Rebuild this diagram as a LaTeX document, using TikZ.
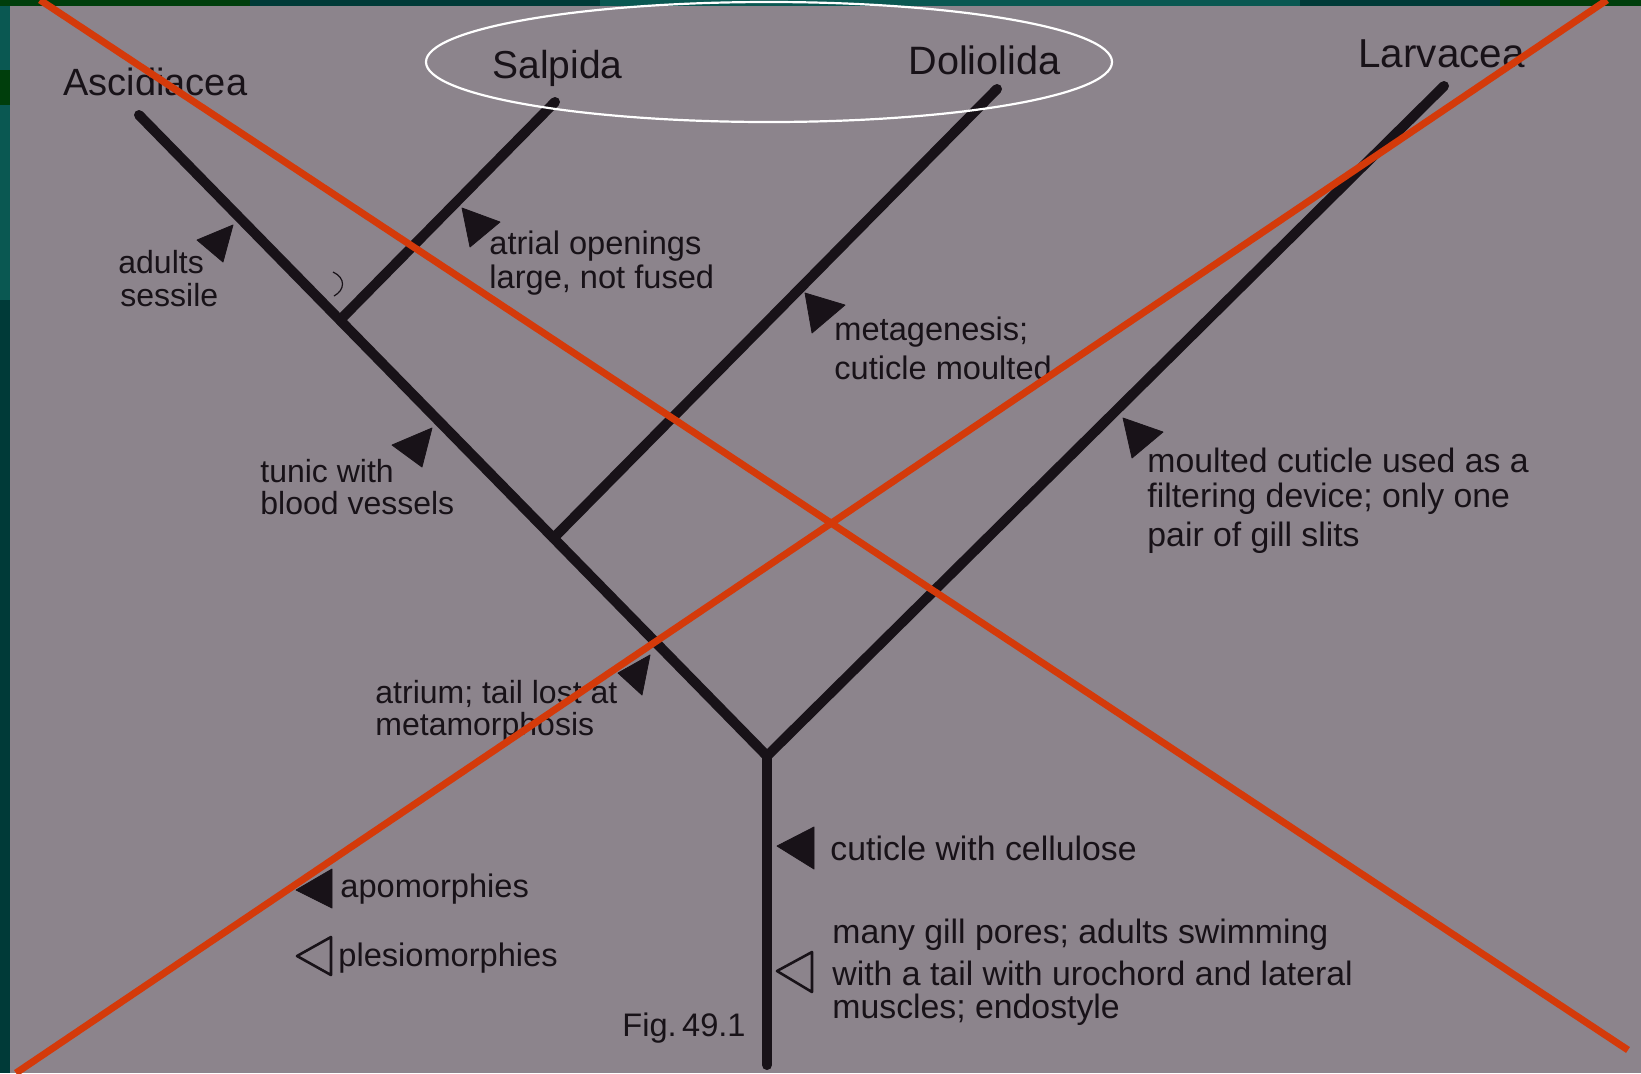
\documentclass[tikz,border=0pt]{standalone}
\usepackage{fontspec}
\setmainfont{Liberation Sans}
\usetikzlibrary{calc}
\definecolor{pagec}{RGB}{140,132,140}
\definecolor{ink}{RGB}{24,18,24}
\definecolor{xred}{RGB}{212,58,10}
\definecolor{tealdark}{RGB}{0,58,56}
\definecolor{teallight}{RGB}{10,88,82}
\definecolor{greendark}{RGB}{0,62,12}
\begin{document}
\begin{tikzpicture}[x=0.5pt,y=-0.5pt,
  branch/.style={line width=5pt, draw=ink, line cap=round, line join=round},
  taxon/.style={font=\fontsize{19.5}{22}\selectfont, text=ink, inner sep=0pt, anchor=west},
  lbl/.style={font=\fontsize{16.3}{19}\selectfont, text=ink, inner sep=0pt, anchor=west},
  lblsmall/.style={lbl, font=\fontsize{16}{19}\selectfont},
  lblbig/.style={lbl, font=\fontsize{16.9}{19}\selectfont},
  apo/.style={fill=ink, draw=ink, line join=round},
  plesio/.style={draw=ink, line width=1.3pt, line join=round},
  cross/.style={draw=xred, line width=3.5pt},
  ring/.style={draw=white, line width=1.1pt}]
\useasboundingbox (0,0) rectangle (1641,1073);
% backdrop
\fill[tealdark] (0,0) rectangle (1641,1073);
\fill[teallight] (0,6) rectangle (10,300);
\fill[greendark] (0,70) rectangle (10,105);
\fill[teallight] (600,0) rectangle (1300,6);
\fill[greendark] (0,0) rectangle (250,6);
\fill[greendark] (1500,0) rectangle (1641,6);
\fill[pagec] (10,6) rectangle (1641,1073);

% tree
\coordinate (asc) at (139,115);
\coordinate (fork) at (767,756);
\coordinate (root) at (767,1065);
\coordinate (lar) at (1444,86);
\coordinate (sj) at ($(asc)!0.32!(fork)$);
\coordinate (sal) at (555,102);
\coordinate (dj) at ($(asc)!0.66!(fork)$);
\coordinate (dol) at (997,89);
\draw[branch] (asc) -- (fork) -- (lar);
\draw[branch] (fork) -- (root);
\draw[branch] (sj) -- (sal);
\draw[branch] (dj) -- (dol);
\draw[ink, line width=0.6pt] (333,272) .. controls (346,278) and (345,290) .. (334,296);

% character markers
\fill[apo] (197,240) -- (233,225) -- (223,262) -- cycle;
\fill[apo] (462,208) -- (500,222) -- (470,247) -- cycle;
\fill[apo] (392,445) -- (432,428) -- (422,467) -- cycle;
\fill[apo] (805,293) -- (845,305) -- (812,333) -- cycle;
\fill[apo] (1123,418) -- (1163,432) -- (1132,458) -- cycle;
\fill[apo] (618,673) -- (650,655) -- (642,695) -- cycle;
\fill[apo] (777,846) -- (814,827) -- (814,869) -- cycle;
\draw[plesio] (777,971) -- (812,952) -- (812,992) -- cycle;
\fill[apo] (296,890) -- (332,869) -- (332,908) -- cycle;
\draw[plesio] (297,956) -- (331,937) -- (331,975) -- cycle;

% taxa
\node[taxon, font=\fontsize{19}{22}\selectfont] (tAsc) at (63,82) {Ascidiacea};
\node[taxon] (tSal) at (492,68) {Salpida};
\node[taxon, font=\fontsize{19.8}{22}\selectfont] (tDol) at (908,60) {Doliolida};
\node[taxon, font=\fontsize{20.2}{22}\selectfont] (tLar) at (1358,54) {Larvacea};

% labels
\node[lblsmall] (a1) at (118,262) {adults};
\node[lblsmall] (a2) at (120,295) {sessile};
\node[lbl] (b1) at (489,246) {atrial openings};
\node[lbl] (b2) at (489,280) {large, not fused};
\node[lbl] (c1) at (834,332) {metagenesis;};
\node[lbl] (c2) at (834,368) {cuticle moulted};
\node[lblsmall] (d1) at (260,471) {tunic with};
\node[lblsmall] (d2) at (260,503) {blood vessels};
\node[lblbig] (e1) at (1147,460) {moulted cuticle used as a};
\node[lblbig] (e2) at (1147,499) {filtering device; only one};
\node[lblbig] (e3) at (1147,538) {pair of gill slits};
\node[lblsmall] (f1) at (375,694) {atrium; tail lost at};
\node[lblsmall] (f2) at (375,727) {metamorphosis};
\node[lblbig] (g1) at (830,848) {cuticle with cellulose};
\node[lblbig] (h1) at (832,935) {many gill pores; adults swimming};
\node[lblbig] (h2) at (832,973) {with a tail with urochord and lateral};
\node[lblbig] (h3) at (832,1010) {muscles; endostyle};
\node[lbl] (k1) at (340,889) {apomorphies};
\node[lbl] (k2) at (338,958) {plesiomorphies};
\node[lbl] (fig) at (622,1028) {Fig.\,49.1};

% white ring round Salpida and Doliolida
\draw[ring] (769,62) ellipse [x radius=343, y radius=60];

% red cross
\coordinate (x1a) at (40,0);
\coordinate (x1b) at (1628,1050);
\coordinate (x2a) at (1607,0);
\coordinate (x2b) at (16,1073);
\draw[cross] (x1a) -- (x1b);
\draw[cross] (x2a) -- (x2b);
\end{tikzpicture}
\end{document}
